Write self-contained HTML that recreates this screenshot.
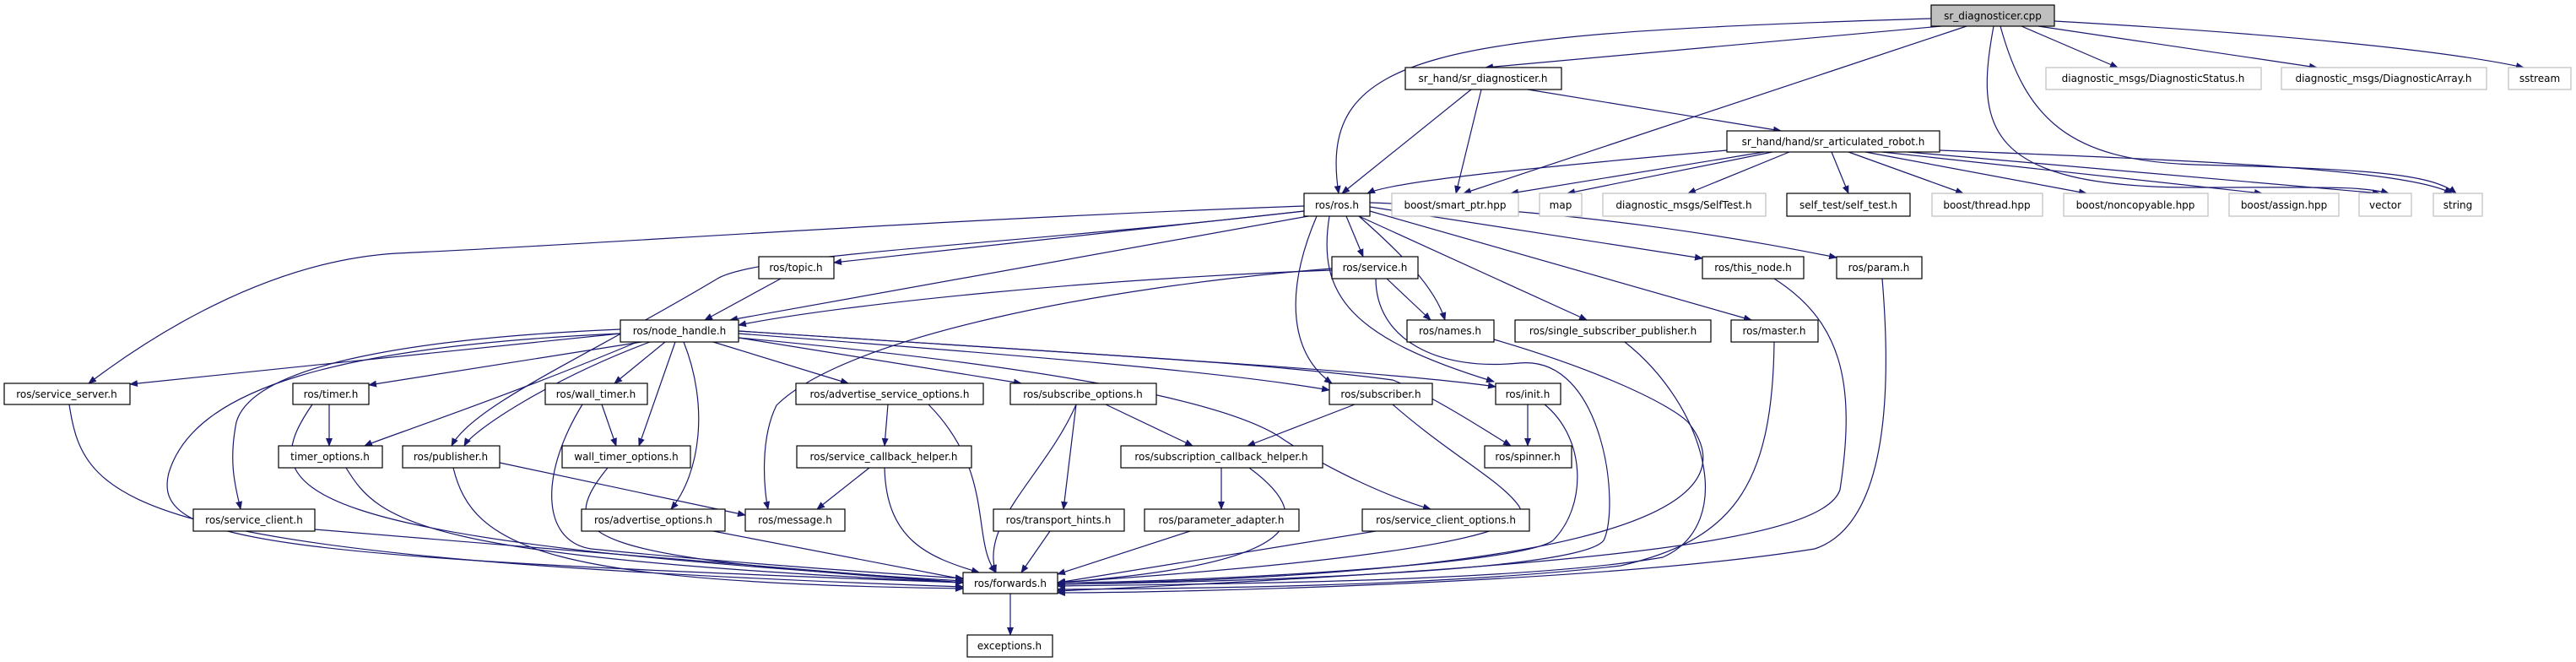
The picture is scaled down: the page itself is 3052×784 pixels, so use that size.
<!DOCTYPE html>
<html><head><meta charset="utf-8"><style>
html,body{margin:0;padding:0;background:#fff;}
svg{display:block;}
text{font-family:"DejaVu Sans","Liberation Sans",sans-serif;font-size:12px;fill:#000;text-anchor:middle;}
.e{fill:none;stroke:#191970;stroke-width:1.2;marker-end:url(#a);}
.n{fill:#fff;stroke:#000;stroke-width:1.2;}
.g{fill:#fff;stroke:#bfbfbf;stroke-width:1.2;}
</style></head><body>
<svg width="3052" height="784" viewBox="0 0 3052 784" xmlns="http://www.w3.org/2000/svg">
<defs><marker id="a" markerWidth="10" markerHeight="8" refX="9" refY="4" orient="auto" markerUnits="userSpaceOnUse"><path d="M0,0 L10,4 L0,8 z" fill="#191970"/></marker></defs>
<g>
<path class="e" d="M2288,22 C1700,40 1560,60 1586,229"/>
<path class="e" d="M2300,31 L1760,80"/>
<path class="e" d="M2330,31 L1734,229"/>
<path class="e" d="M2395,31 L2509,80"/>
<path class="e" d="M2415,31 L2745,80"/>
<path class="e" d="M2434,25 C2700,40 2900,60 2990,80"/>
<path class="e" d="M2362,31 C2340,150 2350,222 2600,222 C2750,222 2800,220 2830,229"/>
<path class="e" d="M2370,31 C2400,140 2450,190 2600,195 C2800,200 2880,205 2910,229"/>
<path class="e" d="M1743,106 L1590,229"/>
<path class="e" d="M1755,106 L1725,229"/>
<path class="e" d="M1810,106 L2110,155"/>
<path class="e" d="M2046,178 C1800,200 1650,215 1620,229"/>
<path class="e" d="M2090,180 L1790,229"/>
<path class="e" d="M2100,180 L1857,229"/>
<path class="e" d="M2120,180 L2000,229"/>
<path class="e" d="M2170,180 L2190,229"/>
<path class="e" d="M2190,180 L2326,229"/>
<path class="e" d="M2210,180 L2472,229"/>
<path class="e" d="M2230,180 L2680,229"/>
<path class="e" d="M2260,180 L2820,229"/>
<path class="e" d="M2298,178 C2600,190 2850,200 2905,229"/>
<path class="e" d="M1545,244 C1100,260 700,290 470,300 C300,310 150,420 105,454"/>
<path class="e" d="M1545,250 C1200,290 900,300 850,330 C700,420 560,480 535,528"/>
<path class="e" d="M1545,250 L988,311"/>
<path class="e" d="M1550,256 L865,379"/>
<path class="e" d="M1595,256 L1615,304"/>
<path class="e" d="M1610,256 C1660,300 1700,340 1712,379"/>
<path class="e" d="M1560,256 C1520,350 1530,420 1578,454"/>
<path class="e" d="M1575,256 C1560,350 1600,400 1770,452"/>
<path class="e" d="M1623,245 L2017,306"/>
<path class="e" d="M1623,240 C1900,250 2100,290 2176,305"/>
<path class="e" d="M1610,256 L1880,379"/>
<path class="e" d="M1623,250 L2075,379"/>
<path class="e" d="M925,330 L835,379"/>
<path class="e" d="M1578,320 C1300,330 1000,360 875,385"/>
<path class="e" d="M1643,330 L1695,379"/>
<path class="e" d="M1578,318 C1300,340 1000,400 920,480 C900,520 905,580 910,603"/>
<path class="e" d="M1630,330 C1630,400 1700,440 1800,430 C1900,420 1920,600 1900,640 C1870,680 1400,690 1253,692"/>
<path class="e" d="M735,395 L154,455"/>
<path class="e" d="M760,405 L437,456"/>
<path class="e" d="M755,405 C600,470 450,520 432,528"/>
<path class="e" d="M770,405 C650,450 560,510 550,528"/>
<path class="e" d="M788,405 L728,454"/>
<path class="e" d="M800,405 L757,528"/>
<path class="e" d="M810,405 C840,480 830,560 795,603"/>
<path class="e" d="M845,405 L1005,454"/>
<path class="e" d="M875,400 L1210,454"/>
<path class="e" d="M875,395 C1200,420 1450,440 1575,462"/>
<path class="e" d="M875,392 C1300,420 1650,440 1772,458"/>
<path class="e" d="M875,392 C1300,420 1500,430 1650,450 C1700,470 1760,510 1790,528"/>
<path class="e" d="M875,400 C1200,430 1450,470 1520,520 C1580,560 1650,590 1695,603"/>
<path class="e" d="M735,390 C500,400 300,430 280,500 C270,550 280,580 285,603"/>
<path class="e" d="M735,395 C400,410 230,460 200,560 C180,640 300,660 1141,690"/>
<path class="e" d="M82,479 C100,600 150,660 1141,695"/>
<path class="e" d="M390,479 L390,528"/>
<path class="e" d="M370,479 C300,580 330,640 1141,688"/>
<path class="e" d="M713,479 L730,528"/>
<path class="e" d="M690,479 C640,560 640,640 700,650 C900,670 1141,685 1141,685"/>
<path class="e" d="M1052,479 L1048,528"/>
<path class="e" d="M1100,479 C1180,560 1150,640 1180,678"/>
<path class="e" d="M1275,479 L1260,603"/>
<path class="e" d="M1310,479 L1413,528"/>
<path class="e" d="M1275,479 C1240,560 1160,620 1180,678"/>
<path class="e" d="M1605,479 L1478,528"/>
<path class="e" d="M1650,479 C1720,540 1780,570 1800,600 C1830,650 1400,680 1253,690"/>
<path class="e" d="M1810,479 L1810,528"/>
<path class="e" d="M1830,479 C1880,520 1880,600 1840,640 C1800,670 1400,690 1253,690"/>
<path class="e" d="M410,554 C450,620 500,660 1141,690"/>
<path class="e" d="M592,548 L883,610"/>
<path class="e" d="M537,554 C560,650 650,690 1141,697"/>
<path class="e" d="M720,554 C650,640 700,660 1141,690"/>
<path class="e" d="M1030,554 L968,603"/>
<path class="e" d="M1048,554 C1050,640 1100,660 1160,678"/>
<path class="e" d="M1447,554 L1447,603"/>
<path class="e" d="M1480,554 C1570,620 1530,670 1253,690"/>
<path class="e" d="M373,627 L1141,690"/>
<path class="e" d="M845,629 L1141,686"/>
<path class="e" d="M1244,629 L1210,678"/>
<path class="e" d="M1410,629 L1253,680"/>
<path class="e" d="M1630,629 L1253,690"/>
<path class="e" d="M1770,402 C1900,440 1980,480 2000,500 C2080,600 1900,680 1253,692"/>
<path class="e" d="M1925,405 C2020,480 2060,620 1970,660 C1800,690 1400,692 1253,694"/>
<path class="e" d="M2102,405 C2100,580 2050,640 1920,670 C1700,695 1400,697 1253,698"/>
<path class="e" d="M2102,330 C2180,380 2200,450 2180,580 C2160,640 1900,670 1253,700"/>
<path class="e" d="M2230,330 C2240,450 2240,620 2150,650 C1900,690 1400,702 1253,702"/>
<path class="e" d="M1197,703 L1197,752"/>
</g>
<g>
<rect x="2288" y="6" width="146" height="25" fill="#bfbfbf" stroke="#000" stroke-width="1.2"/><text x="2361" y="23">sr_diagnosticer.cpp</text>
<rect class="n" x="1665" y="80" width="185" height="26"/><text x="1757" y="97">sr_hand/sr_diagnosticer.h</text>
<rect class="g" x="2424" y="80" width="255" height="26"/><text x="2551" y="97">diagnostic_msgs/DiagnosticStatus.h</text>
<rect class="g" x="2703" y="80" width="243" height="26"/><text x="2824" y="97">diagnostic_msgs/DiagnosticArray.h</text>
<rect class="g" x="2972" y="80" width="74" height="26"/><text x="3009" y="97">sstream</text>
<rect class="n" x="2046" y="155" width="252" height="25"/><text x="2172" y="172">sr_hand/hand/sr_articulated_robot.h</text>
<rect class="n" x="1545" y="229" width="78" height="27"/><text x="1584" y="247">ros/ros.h</text>
<rect class="g" x="1649" y="229" width="150" height="27"/><text x="1724" y="247">boost/smart_ptr.hpp</text>
<rect class="g" x="1824" y="229" width="50" height="27"/><text x="1849" y="247">map</text>
<rect class="g" x="1899" y="229" width="193" height="27"/><text x="1995" y="247">diagnostic_msgs/SelfTest.h</text>
<rect class="n" x="2117" y="229" width="146" height="27"/><text x="2190" y="247">self_test/self_test.h</text>
<rect class="g" x="2289" y="229" width="131" height="27"/><text x="2354" y="247">boost/thread.hpp</text>
<rect class="g" x="2445" y="229" width="171" height="27"/><text x="2530" y="247">boost/noncopyable.hpp</text>
<rect class="g" x="2641" y="229" width="130" height="27"/><text x="2706" y="247">boost/assign.hpp</text>
<rect class="g" x="2795" y="229" width="62" height="27"/><text x="2826" y="247">vector</text>
<rect class="g" x="2883" y="229" width="58" height="27"/><text x="2912" y="247">string</text>
<rect class="n" x="899" y="304" width="89" height="26"/><text x="943" y="321">ros/topic.h</text>
<rect class="n" x="1578" y="304" width="102" height="26"/><text x="1629" y="321">ros/service.h</text>
<rect class="n" x="2017" y="304" width="120" height="26"/><text x="2077" y="321">ros/this_node.h</text>
<rect class="n" x="2176" y="304" width="101" height="26"/><text x="2226" y="321">ros/param.h</text>
<rect class="n" x="735" y="379" width="140" height="26"/><text x="805" y="396">ros/node_handle.h</text>
<rect class="n" x="1667" y="379" width="103" height="26"/><text x="1718" y="396">ros/names.h</text>
<rect class="n" x="1795" y="379" width="232" height="26"/><text x="1911" y="396">ros/single_subscriber_publisher.h</text>
<rect class="n" x="2051" y="379" width="103" height="26"/><text x="2102" y="396">ros/master.h</text>
<rect class="n" x="5" y="454" width="149" height="25"/><text x="79" y="471">ros/service_server.h</text>
<rect class="n" x="347" y="454" width="90" height="25"/><text x="392" y="471">ros/timer.h</text>
<rect class="n" x="646" y="454" width="121" height="25"/><text x="706" y="471">ros/wall_timer.h</text>
<rect class="n" x="943" y="454" width="222" height="25"/><text x="1054" y="471">ros/advertise_service_options.h</text>
<rect class="n" x="1197" y="454" width="173" height="25"/><text x="1283" y="471">ros/subscribe_options.h</text>
<rect class="n" x="1575" y="454" width="122" height="25"/><text x="1636" y="471">ros/subscriber.h</text>
<rect class="n" x="1772" y="454" width="77" height="25"/><text x="1810" y="471">ros/init.h</text>
<rect class="n" x="330" y="528" width="123" height="26"/><text x="391" y="545">timer_options.h</text>
<rect class="n" x="477" y="528" width="115" height="26"/><text x="534" y="545">ros/publisher.h</text>
<rect class="n" x="666" y="528" width="152" height="26"/><text x="742" y="545">wall_timer_options.h</text>
<rect class="n" x="944" y="528" width="207" height="26"/><text x="1047" y="545">ros/service_callback_helper.h</text>
<rect class="n" x="1328" y="528" width="239" height="26"/><text x="1447" y="545">ros/subscription_callback_helper.h</text>
<rect class="n" x="1759" y="528" width="103" height="26"/><text x="1810" y="545">ros/spinner.h</text>
<rect class="n" x="229" y="603" width="144" height="26"/><text x="301" y="620">ros/service_client.h</text>
<rect class="n" x="689" y="603" width="170" height="26"/><text x="774" y="620">ros/advertise_options.h</text>
<rect class="n" x="883" y="603" width="118" height="26"/><text x="942" y="620">ros/message.h</text>
<rect class="n" x="1177" y="603" width="155" height="26"/><text x="1254" y="620">ros/transport_hints.h</text>
<rect class="n" x="1356" y="603" width="183" height="26"/><text x="1447" y="620">ros/parameter_adapter.h</text>
<rect class="n" x="1614" y="603" width="198" height="26"/><text x="1713" y="620">ros/service_client_options.h</text>
<rect class="n" x="1141" y="678" width="112" height="25"/><text x="1197" y="695">ros/forwards.h</text>
<rect class="n" x="1146" y="752" width="101" height="26"/><text x="1196" y="769">exceptions.h</text>
</g>
</svg>
</body></html>
